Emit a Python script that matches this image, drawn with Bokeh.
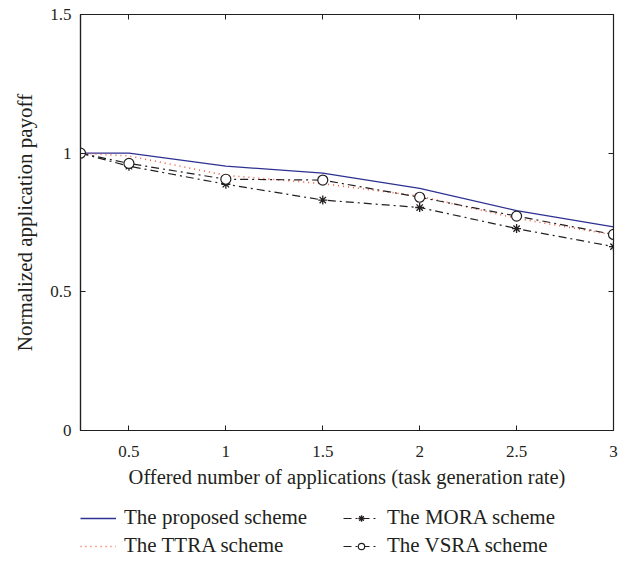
from bokeh.plotting import figure
from bokeh.layouts import column
from bokeh.models import Range1d, FixedTicker, LinearAxis, Legend, LegendItem
from bokeh.embed import file_html
from bokeh.resources import INLINE

x = [0.25, 0.5, 1.0, 1.5, 2.0, 2.5, 3.0]
proposed = [1.0, 1.0, 0.953, 0.928, 0.873, 0.793, 0.734]
ttra = [1.0, 0.99, 0.92, 0.89, 0.845, 0.765, 0.705]
mora = [1.0, 0.953, 0.888, 0.831, 0.804, 0.728, 0.663]
vsra = [1.0, 0.963, 0.906, 0.903, 0.841, 0.773, 0.707]
x_ticks = [0.5, 1, 1.5, 2, 2.5, 3]
y_ticks = [0, 0.5, 1, 1.5]
names = ["The proposed scheme", "The TTRA scheme", "The MORA scheme", "The VSRA scheme"]

FONT = "Liberation Serif"
INK = "#231f20"

p = figure(width=630, height=490, output_backend="svg", toolbar_location=None,
           x_range=Range1d(0.25, 3.0), y_range=Range1d(0, 1.5),
           min_border_left=80, min_border_right=17, min_border_top=14, min_border_bottom=59)
p.grid.visible = False
p.outline_line_color = INK
p.outline_line_width = 1.2

for ax in [p.xaxis[0], p.yaxis[0]]:
    ax.major_tick_in = 5
    ax.major_tick_out = 0
    ax.minor_tick_line_color = None
    ax.axis_line_color = INK
    ax.axis_line_width = 1.2
    ax.major_tick_line_color = INK
    ax.major_label_text_font = FONT
    ax.major_label_text_font_size = "17px"
    ax.major_label_text_color = INK
    ax.axis_label_text_font = FONT
    ax.axis_label_text_font_style = "normal"
    ax.axis_label_text_color = INK

p.xaxis.axis_label_text_font_size = "20.5px"
p.yaxis.axis_label_text_font_size = "21px"
p.xaxis.ticker = FixedTicker(ticks=x_ticks)
p.yaxis.ticker = FixedTicker(ticks=y_ticks)
p.xaxis.major_label_overrides = {v: ("%g" % v) for v in x_ticks}
p.yaxis.major_label_overrides = {v: ("%g" % v) for v in y_ticks}
p.xaxis.axis_label = "Offered number of applications (task generation rate)"
p.yaxis.axis_label = "Normalized application payoff"
p.xaxis.major_label_standoff = 15
p.yaxis.major_label_standoff = 9
p.xaxis.axis_label_standoff = 6
p.yaxis.axis_label_standoff = 10

for loc, tick in [("right", y_ticks), ("above", x_ticks)]:
    a = LinearAxis(ticker=FixedTicker(ticks=tick), major_label_text_font_size="0px",
                   major_tick_in=5, major_tick_out=0, minor_tick_line_color=None,
                   axis_line_color=INK, major_tick_line_color=INK,
                   major_label_standoff=0)
    p.add_layout(a, loc)


def draw(fig):
    r1 = fig.line(x, proposed, line_color="#2e3192", line_width=1.3)
    r2 = fig.line(x, ttra, line_color="#f15a40", line_width=1.6, line_dash="1 4")
    r3 = fig.line(x, mora, line_color=INK, line_width=1.2, line_dash="8 4 2 4")
    r3m = fig.scatter(x, mora, marker="asterisk", size=9, line_color=INK, line_width=1.3)
    r4 = fig.line(x, vsra, line_color=INK, line_width=1.2, line_dash="8 4 2 4")
    r4m = fig.scatter(x, vsra, marker="circle", size=10, line_color=INK,
                      fill_color="white", line_width=1.2)
    return [[r1], [r2], [r3, r3m], [r4, r4m]]


draw(p)

# legend strip below the chart (its own renderers lie outside its view)
q = figure(width=630, height=71, output_backend="svg", toolbar_location=None,
           x_range=Range1d(0.25, 3.0), y_range=Range1d(5, 6),
           x_axis_location=None, y_axis_location=None,
           min_border_left=0, min_border_right=0, min_border_top=0, min_border_bottom=0)
q.grid.visible = False
q.outline_line_color = None
rs = draw(q)

order = [0, 2, 1, 3]
legend = Legend(items=[LegendItem(label=names[i], renderers=rs[i]) for i in order],
                orientation="horizontal", ncols=2, border_line_color=None,
                background_fill_alpha=0,
                label_text_font=FONT, label_text_font_size="21px", label_text_color=INK,
                glyph_width=36, glyph_height=16, label_standoff=8, spacing=3,
                label_width=216, label_height=24, padding=0, margin=0,
                location=(0, 3))
q.add_layout(legend)

layout = column(p, q, spacing=0)
open("out.html", "w").write(file_html(layout, INLINE))
